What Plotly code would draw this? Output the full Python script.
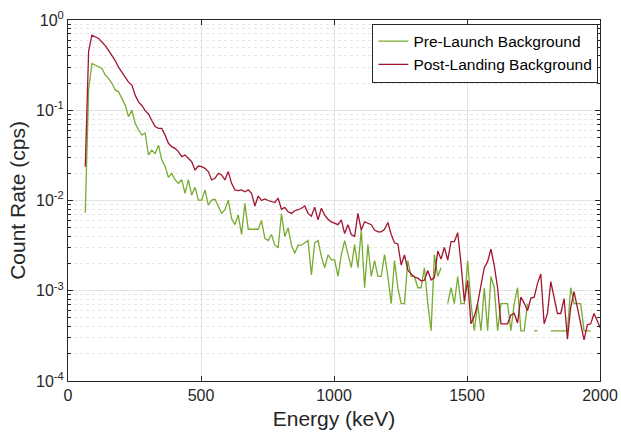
import numpy as np
import plotly.graph_objects as go

# Energy calibration of the spectrum bins (keV)
bin_start_kev = 65.0
bin_width_kev = 12.5

# Count rates (cps) per bin; None = empty bin (zero counts)
pre_launch = [
    0.0073, 0.17, 0.33, 0.317, 0.304, 0.291, 0.246, 0.226, 0.199, 0.168,
    0.160, 0.135, 0.114, 0.085, 0.100, 0.0716, 0.0604, 0.0532, 0.056, 0.032,
    0.036, 0.033, 0.041, 0.028, 0.024, 0.018, 0.020, 0.017, 0.0155, 0.017,
    0.012, 0.017, 0.0115, 0.014, 0.0101, 0.0101, 0.0131, 0.0089, 0.0101, 0.0103,
    0.0086, 0.0072, 0.0079, 0.0101, 0.0063, 0.0054, 0.0069, 0.0042, 0.0093, 0.0048,
    0.0048, 0.0048, 0.0048, 0.0060, 0.0038, 0.0036, 0.0042, 0.0032, 0.0030, 0.0071,
    0.0040, 0.0050, 0.0032, 0.0026, 0.0032, 0.0032, 0.0034, 0.0036, 0.0015, 0.0034,
    0.0036, 0.0024, 0.0018, 0.0025, 0.0022, 0.0022, 0.00144, 0.00252, 0.0036, 0.00252,
    0.0018, 0.00324, 0.0018, 0.0047, 0.00108, 0.00324, 0.00144, 0.00216, 0.00144, 0.00144,
    0.00252, 0.00144, 0.00072, 0.00216, 0.00108, 0.00072, 0.00072, 0.00216, 0.00144, 0.00144,
    0.00108, 0.00108, 0.0018, 0.00072, 0.00036, 0.00252, 0.00144, 0.0018, None, 0.00072,
    0.00108, 0.00072, 0.00144, 0.00072, 0.00072, 0.00216, 0.00072, 0.00036, 0.00072, 0.00036,
    0.00108, 0.00036, 0.00144, 0.00108, 0.00036, 0.00072, 0.00072, 0.00072, 0.00036, 0.00072,
    0.00108, 0.00036, 0.00036, 0.00072, None, 0.00036, 0.00036, None, None, None,
    0.00036, 0.00036, 0.00036, 0.00036, 0.00036, 0.00036, 0.00108, 0.00072, 0.00072, 0.00072,
    0.00036, 0.00036, 0.00036, None, None, None,
]

post_landing = [
    0.0237, 0.45, 0.68, 0.655, 0.625, 0.57, 0.52, 0.46, 0.405, 0.355,
    0.30, 0.265, 0.233, 0.205, 0.19, 0.147, 0.124, 0.113, 0.099, 0.091,
    0.077, 0.066, 0.063, 0.063, 0.053, 0.043, 0.0395, 0.0378, 0.0348, 0.0306,
    0.0319, 0.0293, 0.0269, 0.0218, 0.0241, 0.0237, 0.0227, 0.0209, 0.0169, 0.0176,
    0.0200, 0.0192, 0.0169, 0.0209, 0.0155, 0.0131, 0.0129, 0.0131, 0.0125, 0.0131,
    0.0120, 0.0087, 0.0112, 0.0100, 0.0104, 0.0100, 0.0098, 0.0095, 0.0106, 0.0080,
    0.0084, 0.0075, 0.0072, 0.0077, 0.0079, 0.0082, 0.0087, 0.0072, 0.0067, 0.0084,
    0.0061, 0.0082, 0.0069, 0.0062, 0.0058, 0.0056, 0.0054, 0.0061, 0.0043, 0.0054,
    0.0042, 0.0040, 0.0072, 0.0047, 0.0058, 0.0056, 0.0054, 0.0047, 0.0045, 0.0045,
    0.0048, 0.0057, 0.0042, 0.0034, 0.0033, 0.00193, 0.0025, 0.0017, 0.00153, 0.00142,
    0.00138, 0.00129, 0.00131, 0.00168, 0.00132, 0.0014, 0.00275, 0.00225, 0.00303, 0.00219,
    0.0035, 0.0035, 0.0044, 0.0020, 0.00076, 0.0013, 0.00043, 0.00052, 0.00072, 0.00115,
    0.0018, 0.0021, 0.0029, 0.0019, 0.00108, 0.00043, 0.00043, 0.00043, 0.00054, 0.00056,
    0.00044, 0.00085, 0.00073, 0.00060, 0.00083, 0.00085, 0.0012, 0.00153, 0.00043, 0.00056,
    0.00126, 0.00082, 0.00056, 0.00056, 0.00082, 0.00029, 0.00066, 0.00098, 0.00064, 0.00045,
    0.000285, 0.00042, 0.00043, 0.00056, 0.00047, 0.00038,
]

series_names = ["Pre-Launch Background", "Post-Landing Background"]
series_colors = ["#77AC30", "#A2142F"]

x_tick_vals = [0, 500, 1000, 1500, 2000]
y_tick_vals = [1e-4, 1e-3, 1e-2, 1e-1, 1]
y_tick_text = ["10<sup>-4</sup>", "10<sup>-3</sup>", "10<sup>-2</sup>",
               "10<sup>-1</sup>", "10<sup>0</sup>"]

energy = bin_start_kev + bin_width_kev * np.arange(len(post_landing))

FONT = "Liberation Sans, Arial, Helvetica, sans-serif"
AX = "#262626"

fig = go.Figure()
for name, vals, col in zip(series_names, [pre_launch, post_landing], series_colors):
    fig.add_trace(go.Scatter(
        x=energy, y=vals, mode="lines", name=name,
        line=dict(color=col, width=1.3), connectgaps=False,
    ))

common = dict(
    showline=True, linecolor=AX, linewidth=1, mirror="allticks",
    ticks="inside", ticklen=5, tickcolor=AX, tickwidth=1,
    tickfont=dict(family=FONT, size=16, color=AX),
    showgrid=True, gridcolor="#e3e3e3", gridwidth=1, zeroline=False,
    automargin=False,
)

fig.update_xaxes(
    range=[0, 2000], tickmode="array", tickvals=x_tick_vals,
    title=dict(text="Energy (keV)", font=dict(family=FONT, size=21, color=AX), standoff=8),
    **common,
)
fig.update_yaxes(
    type="log", range=[-4, 0], tickmode="array", tickvals=y_tick_vals, ticktext=y_tick_text,
    title=dict(text="Count Rate (cps)", font=dict(family=FONT, size=21, color=AX), standoff=4),
    minor=dict(ticks="inside", ticklen=3, tickcolor=AX, dtick="D1",
               showgrid=True, gridcolor="#e6e6e6", griddash="dot", gridwidth=1),
    **common,
)

fig.update_layout(
    width=621, height=436,
    margin=dict(l=68, r=21, t=20, b=55),
    paper_bgcolor="white", plot_bgcolor="white",
    font=dict(family=FONT, color=AX),
    legend=dict(
        x=0.997, xanchor="right", y=0.99, yanchor="top",
        bgcolor="white", bordercolor=AX, borderwidth=1,
        font=dict(family=FONT, size=15.5, color="#000000"),
        itemwidth=30, tracegroupgap=0,
    ),
)

fig.write_html("out.html")
